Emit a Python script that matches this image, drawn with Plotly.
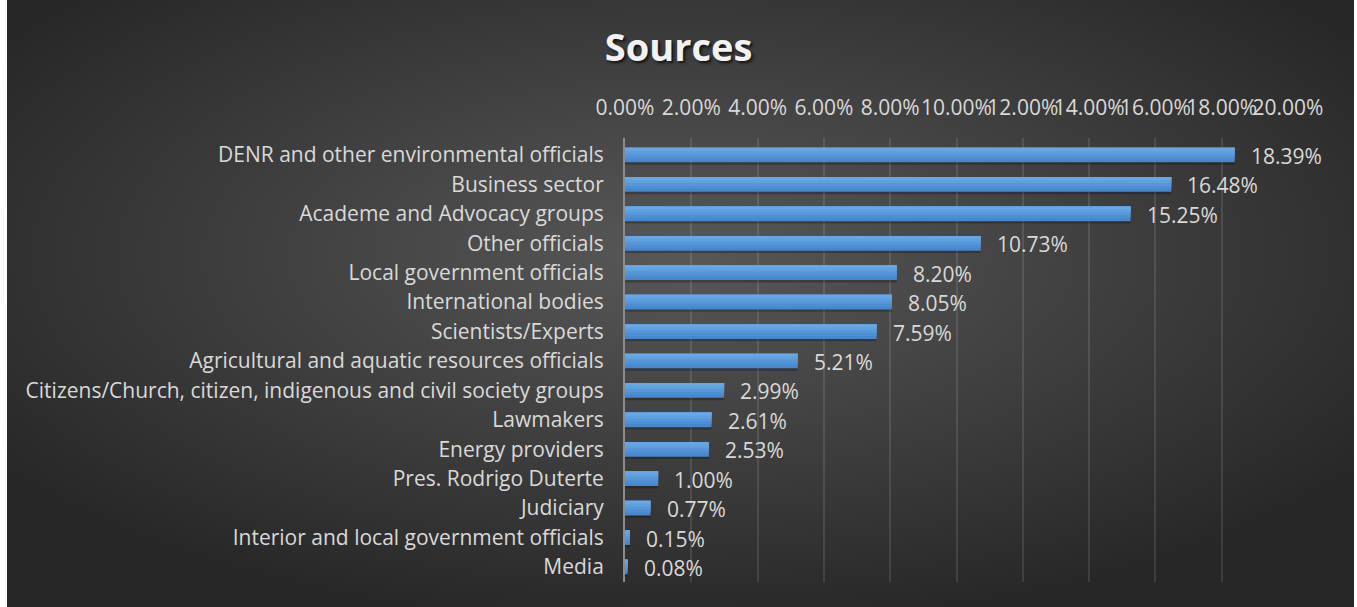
import base64
import plotly.graph_objects as go

# Share of quoted sources, in percent
categories = [
    "DENR and other environmental officials",
    "Business sector",
    "Academe and Advocacy groups",
    "Other officials",
    "Local government officials",
    "International bodies",
    "Scientists/Experts",
    "Agricultural and aquatic resources officials",
    "Citizens/Church, citizen, indigenous and civil society groups",
    "Lawmakers",
    "Energy providers",
    "Pres. Rodrigo Duterte",
    "Judiciary",
    "Interior and local government officials",
    "Media",
]
shares_pct = [18.39, 16.48, 15.25, 10.73, 8.20, 8.05, 7.59, 5.21,
              2.99, 2.61, 2.53, 1.00, 0.77, 0.15, 0.08]
tick_values_pct = [0, 2, 4, 6, 8, 10, 12, 14, 16, 18, 20]

shares = [v / 100 for v in shares_pct]
tick_values = [v / 100 for v in tick_values_pct]

W, H = 1357, 607
ML, MR, MT, MB = 625, 69, 138, 25
PW, PH = W - ML - MR, H - MT - MB

FONT = "Open Sans, Noto Sans, DejaVu Sans, sans-serif"
TEXT = "#d9d9d9"

# Dark radial backdrop with thin white borders on the left and right
svg = f"""<svg xmlns='http://www.w3.org/2000/svg' width='{W}' height='{H}' viewBox='0 0 {W} {H}'>
<defs><radialGradient id='g' cx='0.5' cy='0.42' r='0.62' gradientUnits='objectBoundingBox'>
<stop offset='0' stop-color='#585858'/><stop offset='1' stop-color='#272727'/></radialGradient></defs>
<rect x='0' y='0' width='{W}' height='{H}' fill='#ffffff'/>
<rect x='7' y='0' width='{W - 10}' height='{H}' fill='url(#g)'/>
</svg>"""
bg_uri = "data:image/svg+xml;base64," + base64.b64encode(svg.encode()).decode()

fig = go.Figure()

# soft drop shadow beneath each bar
fig.add_trace(go.Bar(
    x=shares, y=categories, orientation="h",
    width=0.5, offset=-0.17,
    marker=dict(color="rgba(0,0,0,0.25)", line=dict(width=0)),
    hoverinfo="skip", showlegend=False,
))

# bars built from overlapping layers to give a top-lit gradient
layers = [
    (1.00, "#4687cd"),
    (0.80, "#4e8fd4"),
    (0.60, "#5697da"),
    (0.40, "#5fa0df"),
    (0.20, "#68a7e3"),
]
for frac, col in layers:
    fig.add_trace(go.Bar(
        x=shares, y=categories, orientation="h",
        width=0.5 * frac, offset=-0.25,
        marker=dict(color=col, line=dict(width=0)),
        hoverinfo="skip", showlegend=False,
    ))

# value labels beside the bar ends
for cat, v, vp in zip(categories, shares, shares_pct):
    fig.add_annotation(
        x=v, y=cat, xref="x", yref="y",
        text=f"{vp:.2f}%", showarrow=False,
        xanchor="left", yanchor="middle", xshift=14, yshift=-1,
        font=dict(family=FONT, size=21, color=TEXT),
    )

fig.add_layout_image(dict(
    source=bg_uri, xref="paper", yref="paper",
    x=-ML / PW, y=1 + MT / PH, sizex=W / PW, sizey=H / PH,
    xanchor="left", yanchor="top", sizing="stretch", layer="below",
))

fig.update_layout(
    width=W, height=H,
    margin=dict(l=ML, r=MR, t=MT, b=MB, pad=0),
    paper_bgcolor="#ffffff",
    plot_bgcolor="rgba(0,0,0,0)",
    barmode="overlay",
    bargap=0.5,
    title=dict(
        text="<b>Sources</b>", xref="container", x=0.5, xanchor="center",
        yref="container", y=1 - 48 / H, yanchor="middle",
        font=dict(family=FONT, size=38, color="#f2f2f2",
                  shadow="2px 2px 3px rgba(0,0,0,0.7)"),
    ),
    xaxis=dict(
        side="top", range=[0, 0.2], tickvals=tick_values,
        tickformat=".2%", tickangle=0, showgrid=True,
        gridcolor="rgba(255,255,255,0.11)", gridwidth=2,
        zeroline=False, showline=False, ticks="",
        tickfont=dict(family=FONT, size=21, color=TEXT),
        ticklabelstandoff=18, fixedrange=True,
    ),
    yaxis=dict(
        autorange="reversed", showgrid=False, zeroline=False,
        showline=True, linecolor="#8c8c8c", linewidth=2, ticks="",
        tickfont=dict(family=FONT, size=21, color=TEXT),
        ticklabelstandoff=15, fixedrange=True,
    ),
)

fig.write_html("out.html")
